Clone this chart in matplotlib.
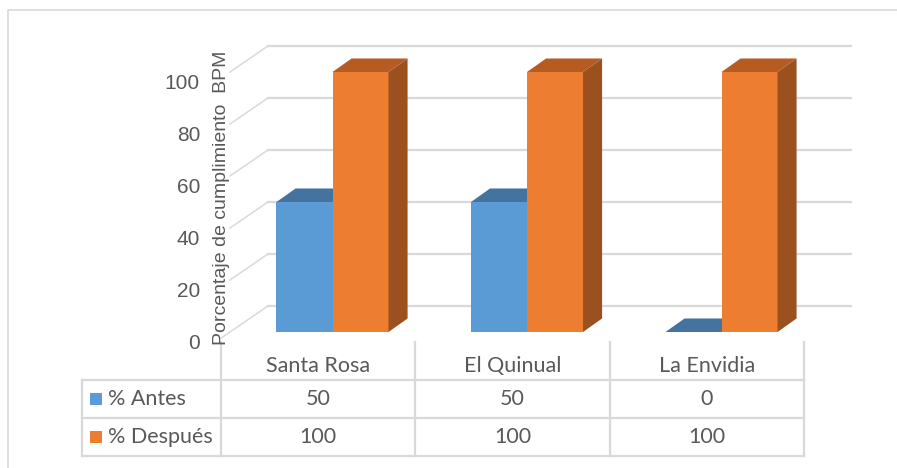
import matplotlib
matplotlib.use("Agg")
import matplotlib.pyplot as plt
from matplotlib.patches import Polygon, Rectangle
from matplotlib.transforms import blended_transform_factory

# data
categories = ["Santa Rosa", "El Quinual", "La Envidia"]
antes = [50, 50, 0]
despues = [100, 100, 100]
series_names = ["% Antes", "% Después"]
y_ticks = [0, 20, 40, 60, 80, 100]
y_label = "Porcentaje de cumplimiento  BPM"

# colours (front, top, side)
blue = ("#5B9BD5", "#44739F", "#3A6890")
orange = ("#ED7D31", "#B65C23", "#9B5020")
grid_c = "#D9D9D9"
text_c = "#595959"

W, H = 897, 468
fig = plt.figure(figsize=(W / 100, H / 100), dpi=100)

# pixel layer for frame + table
lay = fig.add_axes([0, 0, 1, 1], zorder=0)
lay.set_xlim(0, W)
lay.set_ylim(H, 0)
lay.axis("off")

# data layer: one category per unit, value scale on y
x0_px, x_scale = 332.5, 194.5
y0_px, y_scale = 332, 2.6
ax = fig.add_axes([0, 0, 1, 1], zorder=1)
ax.set_xlim(-x0_px / x_scale, (W - x0_px) / x_scale)
ax.set_ylim(-(H - y0_px) / y_scale, y0_px / y_scale)
ax.axis("off")
ax.patch.set_visible(False)

mix = blended_transform_factory(ax.transData, lay.transData)

# outer frame
lay.plot([8, 8, W], [H, 10, 10], color=grid_c, lw=1.2)

# walls: side wall and back wall gridlines
wall_x = -0.527
wall_dx, wall_dv = 0.195, 10
wall_right = 2.666
for v in y_ticks:
    k = 1.24 if v == 0 else 1.0
    ax.plot([wall_x + wall_dx - wall_dx * k, wall_x + wall_dx],
            [v + wall_dv - wall_dv * k, v + wall_dv], color=grid_c, lw=1.1, zorder=1)
    ax.plot([wall_x + wall_dx, wall_right], [v + wall_dv, v + wall_dv],
            color=grid_c, lw=1.6, zorder=1)

# 3-D bars
bw = 0.288
dx, dv = 0.098, 5.2


def bar3d(x, h, cols, side=True):
    front, top, sidec = cols
    if h > 0:
        ax.add_patch(Rectangle((x, 0), bw, h, facecolor=front, edgecolor="none", zorder=3))
    ax.add_patch(Polygon([(x, h), (x + bw, h), (x + bw + dx, h + dv), (x + dx, h + dv)],
                         closed=True, facecolor=top, edgecolor="none", zorder=3))
    if side and h > 0:
        ax.add_patch(Polygon([(x + bw, 0), (x + bw + dx, dv), (x + bw + dx, h + dv), (x + bw, h)],
                             closed=True, facecolor=sidec, edgecolor="none", zorder=3))


for i in range(len(categories)):
    bar3d(i - bw, antes[i], blue, side=False)
    bar3d(i, despues[i], orange)

# value axis labels
for v in y_ticks:
    ax.text((200 - x0_px) / x_scale, v - 4.6, str(v), ha="right", va="center",
            fontsize=15, color=text_c, family="Liberation Sans", zorder=5)
ax.text((222 - x0_px) / x_scale, (y0_px - 198) / y_scale, y_label, rotation=90,
        ha="center", va="center", fontsize=14, color=text_c,
        family="Liberation Sans", zorder=5)

# data table
shift = -0.0746
col_edges = [i - 0.5 + shift for i in range(len(categories) + 1)]
left_px = 82
rows_y = [380, 418, 456]
head_top = 342
tfont = dict(fontsize=15.5, color=text_c, family="Lato", zorder=5)

for y in rows_y:
    lay.plot([left_px, (col_edges[-1]) * x_scale + x0_px], [y, y], color=grid_c, lw=1.6)
lay.plot([left_px, left_px], [rows_y[0], rows_y[-1]], color=grid_c, lw=1.6)
for e in col_edges:
    ax.plot([e, e], [head_top, rows_y[-1]], color=grid_c, lw=1.6, transform=mix)

for i, name in enumerate(categories):
    cx = i + shift
    ax.text(cx, 366, name, ha="center", va="center", transform=mix, **tfont)
    ax.text(cx, 399, str(antes[i]), ha="center", va="center", transform=mix, **tfont)
    ax.text(cx, 437, str(despues[i]), ha="center", va="center", transform=mix, **tfont)

for name, cols, y in zip(series_names, [blue, orange], [399, 437]):
    lay.add_patch(Rectangle((90, y - 6), 12, 12, facecolor=cols[0], edgecolor="none"))
    lay.text(108, y, name, ha="left", va="center", **tfont)

fig.savefig("out.png", dpi=100)
